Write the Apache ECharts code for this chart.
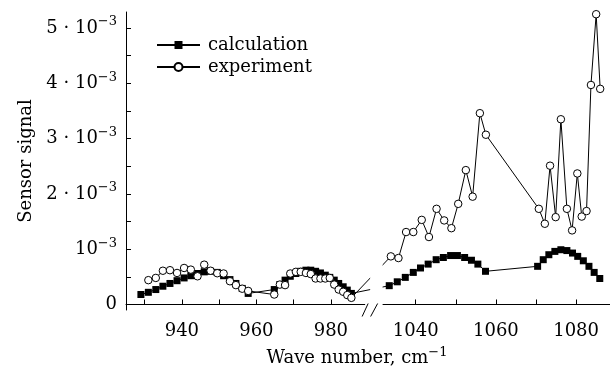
<!DOCTYPE html>
<html><head><meta charset="utf-8">
<script src="https://cdn.jsdelivr.net/npm/echarts@6/dist/echarts.min.js"></script>
<style>html,body{margin:0;padding:0;background:#fff}#c{width:610px;height:374px}</style>
</head><body><div id="c"></div>
<script>
// ---- data (signal in units of 10^-3) ----
const calcWave = [929.0, 931.0, 933.0, 934.9, 936.8, 938.7, 940.6, 942.4, 944.2, 946.0, 947.7, 949.5, 951.2, 952.9, 954.5, 956.2, 957.8,
  964.8, 966.3, 967.7, 969.1, 970.6, 971.9, 973.3, 974.6, 975.9, 977.2, 978.5, 979.7, 980.9, 982.1, 983.3, 984.4, 985.5,
  1033.4, 1035.4, 1037.4, 1039.4, 1041.2, 1043.1, 1045.1, 1046.9, 1048.7, 1050.4, 1052.2, 1053.9, 1055.5, 1057.4,
  1070.4, 1071.8, 1073.2, 1074.7, 1076.2, 1077.7, 1079.1, 1080.4, 1081.8, 1083.2, 1084.5, 1085.9];
const calcSignal = [0.18, 0.22, 0.27, 0.33, 0.38, 0.43, 0.48, 0.52, 0.56, 0.59, 0.60, 0.58, 0.52, 0.45, 0.38, 0.29, 0.20,
  0.27, 0.36, 0.44, 0.51, 0.56, 0.60, 0.62, 0.62, 0.60, 0.57, 0.53, 0.49, 0.44, 0.38, 0.32, 0.26, 0.20,
  0.34, 0.41, 0.49, 0.58, 0.66, 0.73, 0.81, 0.85, 0.885, 0.885, 0.85, 0.80, 0.73, 0.60,
  0.69, 0.81, 0.90, 0.96, 0.99, 0.975, 0.93, 0.87, 0.79, 0.69, 0.58, 0.47];
const expWave = [931.0, 933.0, 934.9, 936.8, 938.7, 940.6, 942.4, 944.2, 946.0, 947.7, 949.5, 951.2, 952.9, 954.5, 956.2, 957.8,
  964.8, 966.3, 967.7, 969.1, 970.6, 971.9, 973.3, 974.6, 975.9, 977.2, 978.5, 979.7, 980.9, 982.1, 983.3, 984.4, 985.5,
  1033.8, 1035.7, 1037.6, 1039.4, 1041.5, 1043.3, 1045.2, 1047.1, 1048.9, 1050.6, 1052.5, 1054.2, 1056.0, 1057.5,
  1070.7, 1072.2, 1073.5, 1074.9, 1076.2, 1077.7, 1079.0, 1080.3, 1081.4, 1082.6, 1083.7, 1085.0, 1086.0];
const expSignal = [0.44, 0.48, 0.61, 0.62, 0.57, 0.66, 0.63, 0.51, 0.72, 0.61, 0.565, 0.56, 0.42, 0.35, 0.285, 0.245,
  0.18, 0.36, 0.35, 0.56, 0.59, 0.59, 0.57, 0.55, 0.47, 0.47, 0.47, 0.48, 0.36, 0.27, 0.23, 0.17, 0.12,
  0.87, 0.84, 1.31, 1.31, 1.53, 1.22, 1.73, 1.52, 1.38, 1.82, 2.43, 1.95, 3.46, 3.07,
  1.73, 1.46, 2.51, 1.58, 3.35, 1.73, 1.34, 2.37, 1.59, 1.69, 3.97, 5.25, 3.90];
const xLabelTicks = [940, 960, 980, 1040, 1060, 1080];
const xMinorTicks = [930, 950, 970, 1050, 1070];
const yLabelTicks = [0, 1, 2, 3, 4, 5];
const yMinorTicks = [0.5, 1.5, 2.5, 3.5, 4.5];

// ---- broken x axis: two linear segments ----
const SEG_L = {from: 925, to: 990, k: 3.725, base: 0};
const SEG_R = {from: 1030, to: 1088.45, k: 4.01, base: 249.6};
function fwd(w) { const s = w < 1010 ? SEG_L : SEG_R; return s.base + (w - s.from) * s.k; }
function inv(u) { const s = u < (SEG_L.to - SEG_L.from) * SEG_L.k + 2 ? SEG_L : SEG_R; return s.from + (u - s.base) / s.k; }

const FONT = 'DejaVu Serif';
const supRich = {
  a: {fontFamily: FONT, fontSize: 18, color: '#000'},
  s: {fontFamily: FONT, fontSize: 13, color: '#000', padding: [0, 0, 12, 0]}
};

const chart = echarts.init(document.getElementById('c'), null, {renderer: 'canvas'});
chart.setOption({
  animation: false,
  backgroundColor: '#fff',
  grid: {left: 126, right: 0, top: 12, bottom: 64, containLabel: false},
  legend: {
    data: ['calculation', 'experiment'], orient: 'vertical', left: 151, top: 31,
    itemWidth: 43, itemHeight: 10, itemGap: 4,
    textStyle: {fontFamily: FONT, fontSize: 18, color: '#000', padding: [0, 0, 0, 3]}
  },
  xAxis: {
    type: 'value', min: 0, max: fwd(SEG_R.to),
    name: '{a|Wave number, cm}{s|−1}', nameLocation: 'middle', nameGap: 36,
    nameTextStyle: {rich: supRich, padding: [0, 22, 0, 0]},
    axisLine: {show: true, lineStyle: {color: '#000', width: 1}},
    axisTick: {show: true, inside: true, length: 5, lineStyle: {color: '#000'},
      customValues: xLabelTicks.concat(xMinorTicks).map(fwd)},
    axisLabel: {customValues: xLabelTicks.map(fwd), margin: 12,
      fontFamily: FONT, fontSize: 18, color: '#000',
      formatter: v => String(Math.round(inv(v)))},
    splitLine: {show: false}
  },
  yAxis: {
    type: 'value', min: -0.1, max: 5.29,
    name: 'Sensor signal', nameLocation: 'middle', nameGap: 88,
    nameTextStyle: {fontFamily: FONT, fontSize: 18, color: '#000'},
    axisLine: {show: true, lineStyle: {color: '#000', width: 1}},
    axisTick: {show: true, inside: true, length: 5, lineStyle: {color: '#000'},
      customValues: yLabelTicks.concat(yMinorTicks)},
    axisLabel: {customValues: yLabelTicks, margin: 9,
      rich: supRich,
      formatter: v => v === 0 ? '{a|0}' : (v === 1 ? '{a|10}{s|−3}' : '{a|' + v + ' · 10}{s|−3}')},
    splitLine: {show: false}
  },
  series: [
    {name: 'calculation', type: 'line', symbol: 'rect', symbolSize: 7,
      data: calcWave.map((w, i) => [fwd(w), calcSignal[i]]),
      itemStyle: {color: '#000'}, lineStyle: {color: '#000', width: 1}, z: 2},
    {name: 'experiment', type: 'line', symbol: 'circle', symbolSize: 7.5,
      data: expWave.map((w, i) => [fwd(w), expSignal[i]]),
      itemStyle: {color: '#fff', borderColor: '#000', borderWidth: 1}, lineStyle: {color: '#000', width: 1}, z: 3}
  ]
});

// axis break decoration
const p990 = chart.convertToPixel({xAxisIndex: 0}, fwd(990));
const p1030 = chart.convertToPixel({xAxisIndex: 0}, fwd(1030));
const yAx = chart.convertToPixel({yAxisIndex: 0}, -0.1);
const yTop = chart.convertToPixel({yAxisIndex: 0}, 5.29);
chart.setOption({
  graphic: [
    {type: 'rect', z: 100, shape: {x: p990 + 2, y: yTop, width: p1030 - p990 + 5, height: yAx - yTop - 4}, style: {fill: '#fff'}},
    {type: 'rect', z: 100, shape: {x: p990 - 3, y: yAx - 8, width: p1030 - p990 + 2, height: 14}, style: {fill: '#fff'}},
    {type: 'line', z: 101, shape: {x1: p990 - 6, y1: yAx + 6.5, x2: p990, y2: yAx - 6.5}, style: {stroke: '#000', lineWidth: 1}},
    {type: 'line', z: 101, shape: {x1: p990 + 2.5, y1: yAx + 6.5, x2: p990 + 9.5, y2: yAx - 6.5}, style: {stroke: '#000', lineWidth: 1}}
  ]
});
</script></body></html>
